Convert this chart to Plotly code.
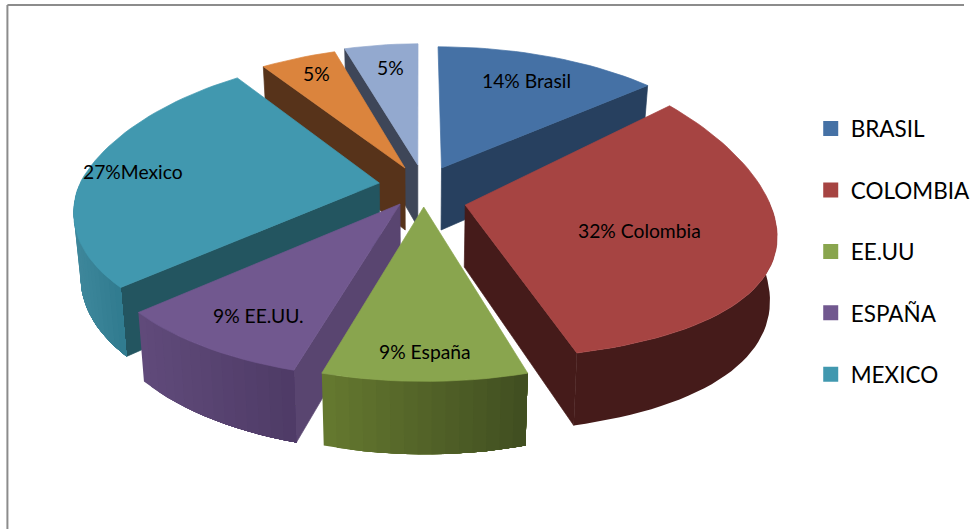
import numpy as np
import plotly.graph_objects as go

# ---- data ----
slice_names = ["BRASIL", "COLOMBIA", "ESPAÑA", "EE.UU", "MEXICO", "OTRO A", "OTRO B"]
slice_values = [14, 32, 9, 9, 27, 5, 5]
slice_labels = ["14% Brasil", "32% Colombia", "9% España", "9% EE.UU.", "27%Mexico", "5%", "5%"]
legend_names = ["BRASIL", "COLOMBIA", "EE.UU", "ESPAÑA", "MEXICO"]

# ---- styles ----
top_colors = ["#4571A5", "#A64442", "#89A54E", "#71588F", "#4198AF", "#DB843D", "#93A9CF"]
face_colors = ["#27405F", "#451B1A", "#4F6129", "#594570", "#235560", "#57331A", "#3E4658"]
rim_left = ["#27405F", "#451B1A", "#64782F", "#604A7A", "#3C8599", "#57331A", "#3E4658"]
rim_right = ["#27405F", "#451B1A", "#3F4C20", "#4D3A65", "#2F7A8E", "#57331A", "#3E4658"]
legend_colors = ["#4571A5", "#A64442", "#89A54E", "#71588F", "#4198AF"]
draw_order = [6, 5, 0, 4, 3, 1, 2]

# ---- projection (per slice: apex pixel, radius, tilt, perspective) ----
VX = 424.0
apex = [(447, 168), (471, 205), (429, 207), (405, 204), (384, 183), (410, 168), (423, 165)]
radius = [308, 309, 312, 310, 303, 312, 312]
tilt = [143, 154, 143, 143, 143, 143, 143]
ky = [0.18, 0.0, 0.18, 0.18, 0.13, 0.18, 0.18]
kback = [0.18, 0.18, 0.18, 0.18, 0.22, 0.3, 0.3]
kfront = 0.18
DEPTH = 62.0


def project(i, theta):
    X, Y = np.sin(theta), np.cos(theta)
    k = np.where(Y > 0, kback[i], kfront)
    px = VX + (apex[i][0] - VX + radius[i] * X) / (1 + k * Y)
    py = apex[i][1] - tilt[i] * Y / (1 + ky[i] * Y)
    return px, py


def drop(px, py, Y):
    d = DEPTH / (1 + 0.15 * Y)
    return VX + (px - VX) * 0.98, py + d


def mix(c1, c2, t):
    a = [int(c1[j:j + 2], 16) for j in (1, 3, 5)]
    b = [int(c2[j:j + 2], 16) for j in (1, 3, 5)]
    return "rgb(%d,%d,%d)" % tuple(round(p + (q - p) * t) for p, q in zip(a, b))


fig = go.Figure()


def poly(xs, ys, color, width=0.7):
    fig.add_trace(go.Scatter(x=list(xs), y=list(ys), mode="lines", fill="toself",
                             fillcolor=color, line=dict(color=color, width=width),
                             showlegend=False, hoverinfo="skip"))


edges = np.cumsum([0] + slice_values) / sum(slice_values) * 2 * np.pi

for i in draw_order:
    a0, a1 = edges[i], edges[i + 1]
    th = np.linspace(a0, a1, max(8, int(np.degrees(a1 - a0) / 2)))
    tx, ty = project(i, th)
    ax, ay = apex[i]
    mx, my = project(i, np.array([(a0 + a1) / 2]))
    # cut faces: visible when the top surface lies above the cut in the picture
    for a in (a0, a1):
        ex, ey = project(i, np.array([a]))
        ex, ey = float(ex[0]), float(ey[0])
        if abs(ex - ax) < 5:
            continue
        line_y = ay + (ey - ay) * (float(mx[0]) - ax) / (ex - ax)
        if float(my[0]) < line_y:
            bax, bay = drop(ax, ay, 0.0)
            bex, bey = drop(ex, ey, np.cos(a))
            poly([ax, ex, bex, bax, ax], [ay, ey, bey, bay, ay], face_colors[i])
    # rim: painted left to right, each band covering everything to its right
    bx, by = drop(tx, ty, np.cos(th))
    vis = np.where(np.cos(th) <= 0.05)[0]
    if len(vis) > 1:
        if tx[vis[0]] > tx[vis[-1]]:
            vis = vis[::-1]
        step = len(vis) if rim_left[i] == rim_right[i] else 1
        for n in range(0, len(vis) - 1, step):
            seg = vis[n:]
            t = (tx[seg[0]] - tx[vis[0]]) / max(tx[vis[-1]] - tx[vis[0]], 1)
            xs = list(tx[seg]) + list(bx[seg][::-1])
            ys = list(ty[seg]) + list(by[seg][::-1])
            poly(xs + xs[:1], ys + ys[:1], mix(rim_left[i], rim_right[i], t), width=0)
    # top
    poly([ax, *tx, ax], [ay, *ty, ay], top_colors[i])

# legend entries
for name, color in zip(legend_names, legend_colors):
    fig.add_trace(go.Scatter(x=[None], y=[None], mode="markers", name=name, legendgroup=name,
                             marker=dict(symbol="square", size=15, color=color)))

label_pos = [(533, 80), (647, 230), (430, 351), (262, 315), (135, 171), (320, 73), (395, 67)]
for text, (x, y) in zip(slice_labels, label_pos):
    fig.add_annotation(x=x, y=y, text=text, showarrow=False,
                       font=dict(family="Lato", size=19.3, color="#000000"))

frame = dict(type="line", line=dict(color="#8C8C8C", width=2), xref="x", yref="y")
fig.add_shape(x0=7.5, y0=5, x1=7.5, y1=529, **frame)
fig.add_shape(x0=7.5, y0=5, x1=976, y1=5, **frame)

fig.update_layout(
    width=976, height=529, margin=dict(l=0, r=0, t=0, b=0),
    paper_bgcolor="white", plot_bgcolor="white",
    xaxis=dict(range=[0, 976], visible=False, fixedrange=True),
    yaxis=dict(range=[529, 0], visible=False, fixedrange=True),
    legend=dict(x=0.841, xanchor="left", y=0.797, yanchor="top", tracegroupgap=29.2,
                font=dict(family="Lato", size=22.5, color="#000000"), bgcolor="rgba(0,0,0,0)",
                itemwidth=30),
)
fig.write_html("out.html", config={"displayModeBar": False},
               post_script="document.body.style.margin='0';document.documentElement.style.overflow='hidden';")
